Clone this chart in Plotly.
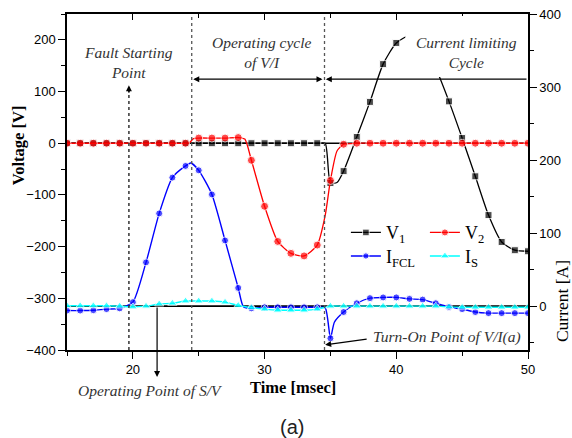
import plotly.graph_objects as go

# ---------------- data ----------------
t_v1 = [15, 16, 17, 18, 19, 20, 21, 22, 23, 24, 25, 26, 27, 28, 29, 30, 31, 32, 33, 34,
        34.6, 35, 35.5, 36, 37, 38, 39, 40, 41, 42, 43, 44, 45, 46, 47, 48, 49, 50]
v1 = [0] * 20 + [0, -77, -76, -54, 12, 80, 153, 194, 208, 195, 145, 81, 10, -64, -139, -191, -207, -209]

t_v2 = [15, 16, 17, 18, 19, 20, 21, 22, 23, 24, 24.3, 24.6, 25, 26, 27, 28, 28.5, 29, 30, 31, 32, 33, 34,
        34.6, 35, 35.5, 36, 37, 38, 39, 40, 41, 42, 43, 44, 45, 46, 47, 48, 49, 50]
v2 = [0] * 10 + [1, 9, 10, 10, 10, 11, 8, -33, -122, -190, -213, -218, -197,
                 -140, -72, -15, -2] + [0] * 14

t_ifcl = [15, 16, 17, 18, 19, 20, 21, 22, 23, 24, 24.4, 25, 26, 27, 28, 28.4, 29, 30, 31, 32, 33, 34,
          34.6, 35, 35.3, 36, 37, 38, 39, 40, 41, 42, 43, 44, 45, 46, 47, 48, 49, 50]
i_fcl = [-6, -6, -5.5, -4, -3, 5.5, 60, 127, 176, 192, 196, 186, 153, 90, 25, -1, -3, -1.5, -1.5, -1.5, -1.5, -1.5,
         -2, -44, -22, -8, 4, 11, 12, 12, 10, 9, 4, -1, -4, -8, -9.5, -9.5, -9.5, -9.5]

t_is = [15, 16, 17, 18, 19, 20, 21, 22, 23, 24, 25, 26, 27, 28, 29, 30, 31, 32, 33, 34,
        35, 36, 37, 38, 39, 40, 41, 42, 43, 44, 45, 46, 47, 48, 49, 50]
i_s = [0.5, 0.5, 0.5, 0.5, 0, -1, 0, 3, 4, 7, 7, 7, 5.5, 1, -2, -4, -5.5, -5.5, -5.5, -4,
       0, 0, 0, 0, 0, 0, 0, 0, 0, -1, -1.5, -1.5, -1.5, -1.5, -1.5, -1.5]

x_ticks = [20, 30, 40, 50]
v_ticks = [-400, -300, -200, -100, 0, 100, 200]
i_ticks = [0, 100, 200, 300, 400]

# event times
t_fault = 19.7
t_op_start = 24.47
t_turn_on = 34.55
t_sv = 21.84


def msize(ts, s):
    return [s if float(t).is_integer() else 0 for t in ts]


SERIF = "Liberation Serif"
SANS = "Liberation Sans"

fig = go.Figure()

fig.add_trace(go.Scatter(x=t_v1, y=v1, name="V<sub>1</sub>", mode="lines+markers", legend="legend",
                         line=dict(color="black", width=1.3, shape="spline", smoothing=0.6),
                         marker=dict(symbol="square", size=msize(t_v1, 7), color="black")))
fig.add_trace(go.Scatter(x=t_v2, y=v2, name="V<sub>2</sub>", mode="lines+markers", legend="legend",
                         line=dict(color="red", width=1.3, shape="spline", smoothing=0.6),
                         marker=dict(symbol="circle", size=msize(t_v2, 8), color="red")))
fig.add_trace(go.Scatter(x=t_ifcl, y=i_fcl, name="I<sub>FCL</sub>", mode="lines+markers", yaxis="y2",
                         legend="legend2",
                         line=dict(color="blue", width=1.4, shape="spline", smoothing=0.6),
                         marker=dict(symbol="circle", size=msize(t_ifcl, 7), color="blue")))
fig.add_trace(go.Scatter(x=t_is, y=i_s, name="I<sub>S</sub>", mode="lines+markers", yaxis="y2",
                         legend="legend2",
                         line=dict(color="cyan", width=1.4, shape="spline", smoothing=0.6),
                         marker=dict(symbol="triangle-up", size=msize(t_is, 8), color="cyan")))
# helper trace for top axis ticks
fig.add_trace(go.Scatter(x=[], y=[], xaxis="x2", showlegend=False))

tickfont = dict(family=SANS, size=13, color="black")
axline = dict(showline=True, linecolor="black", linewidth=1.5, ticks="outside",
              ticklen=7, tickwidth=1.3, tickcolor="black", showgrid=False, zeroline=False,
              automargin=False)

legend_common = dict(orientation="h", xanchor="left", yanchor="middle",
                     bgcolor="rgba(0,0,0,0)", borderwidth=0, entrywidth=34, entrywidthmode="pixels",
                     font=dict(family=SERIF, size=18, color="black"), traceorder="normal")

fig.update_layout(
    width=572, height=438, autosize=False,
    margin=dict(l=67, r=44, t=14, b=88, autoexpand=False),
    paper_bgcolor="white", plot_bgcolor="white",
    xaxis=dict(range=[15, 50], tickvals=x_ticks, tickfont=tickfont, mirror=True,
               minor=dict(dtick=5, tick0=15, ticks="outside", ticklen=4, tickwidth=1.2, tickcolor="black"),
               **axline),
    xaxis2=dict(range=[15, 50], overlaying="x", side="top", anchor="y", tickvals=x_ticks,
                showticklabels=False, ticks="inside", ticklen=6, tickwidth=1.3, tickcolor="black",
                showgrid=False, zeroline=False, showline=False,
                minor=dict(dtick=5, tick0=15, ticks="inside", ticklen=4, tickwidth=1.2, tickcolor="black")),
    yaxis=dict(range=[-400, 250], tickvals=v_ticks, tickfont=tickfont,
               minor=dict(dtick=50, tick0=0, ticks="outside", ticklen=4, tickwidth=1.2, tickcolor="black"),
               **axline),
    yaxis2=dict(range=[-60, 400], tickvals=i_ticks, tickfont=tickfont, overlaying="y", side="right",
                minor=dict(dtick=50, tick0=0, ticks="outside", ticklen=4, tickwidth=1.2, tickcolor="black"),
                **axline),
    legend=dict(x=0.605, y=0.349, **legend_common),
    legend2=dict(x=0.605, y=0.279, **legend_common),
    showlegend=True,
)

# zero lines
fig.add_shape(type="line", xref="paper", x0=0, x1=1, yref="y", y0=0, y1=0,
              line=dict(color="black", width=1.6), layer="below")
fig.add_shape(type="line", xref="paper", x0=0, x1=1, yref="y2", y0=0, y1=0,
              line=dict(color="black", width=1.6), layer="below")

# vertical dotted lines
for tx in [t_op_start, t_turn_on]:
    fig.add_shape(type="line", xref="x", x0=tx, x1=tx, yref="paper", y0=0, y1=1,
                  line=dict(color="#555555", width=1.3, dash="dot"), layer="above")
fig.add_shape(type="line", xref="x", x0=t_fault, x1=t_fault, yref="y", y0=-400, y1=105,
              line=dict(color="#333333", width=1.5, dash="dot"), layer="above")

# white box behind the "Current limiting Cycle" label
fig.add_shape(type="rect", xref="x", x0=40.7, x1=49.9, yref="y", y0=128, y1=246,
              fillcolor="white", line=dict(width=0), layer="above")

ital = dict(family=SERIF, size=15.5, color="#333333")
arrow_common = dict(showarrow=True, arrowhead=2, arrowsize=1, arrowwidth=1.2, arrowcolor="black", text="")
C = dict(xanchor="center", yanchor="middle", showarrow=False)

annotations = [
    dict(x=t_fault, y=0.857, xref="x", yref="paper", text="<i>Fault Starting<br>Point</i>", font=ital, **C),
    dict(x=29.8, y=0.884, xref="x", yref="paper", text="<i>Operating cycle<br>of V/I</i>", font=ital, **C),
    dict(x=45.3, y=0.884, xref="x", yref="paper", text="<i>Current limiting<br>Cycle</i>", font=ital, **C),
    dict(x=0.18, y=-0.122, xref="paper", yref="paper", text="<i>Operating Point of S/V</i>", font=ital, **C),
    dict(x=0.824, y=0.0387, xref="paper", yref="paper", text="<i>Turn-On Point of V/I(a)</i>", font=ital, **C),
    dict(x=0.49, y=-0.113, xref="paper", yref="paper", text="<b>Time [msec]</b>",
         font=dict(family=SERIF, size=16.5, color="black"), **C),
    dict(x=0.488, y=-0.229, xref="paper", yref="paper", text="(a)",
         font=dict(family=SANS, size=20, color="#222222"), **C),
    dict(x=-0.106, y=0.61, xref="paper", yref="paper", text="<b>Voltage [V]</b>", textangle=-90,
         font=dict(family=SERIF, size=16.5, color="black"), **C),
    dict(x=1.074, y=0.146, xref="paper", yref="paper", text="Current [A]", textangle=-90,
         font=dict(family=SERIF, size=17.5, color="black"), **C),
    # arrows
    dict(x=t_turn_on - 0.15, y=124, xref="x", yref="y", ax=t_op_start, ay=124, axref="x", ayref="y",
         arrowside="end+start", **arrow_common),
    dict(x=t_turn_on + 0.1, y=124, xref="x", yref="y", ax=50, ay=124, axref="x", ayref="y",
         **arrow_common),
    dict(x=t_fault, y=112, xref="x", yref="y", ax=0, ay=9, **arrow_common),
    dict(x=t_sv, y=-0.08, xref="x", yref="paper", ax=0, ay=-71, **arrow_common),
    dict(x=t_turn_on + 0.05, y=-390, xref="x", yref="y", ax=43, ay=-6, **arrow_common),
]
fig.update_layout(annotations=annotations)

fig.write_html("out.html")
